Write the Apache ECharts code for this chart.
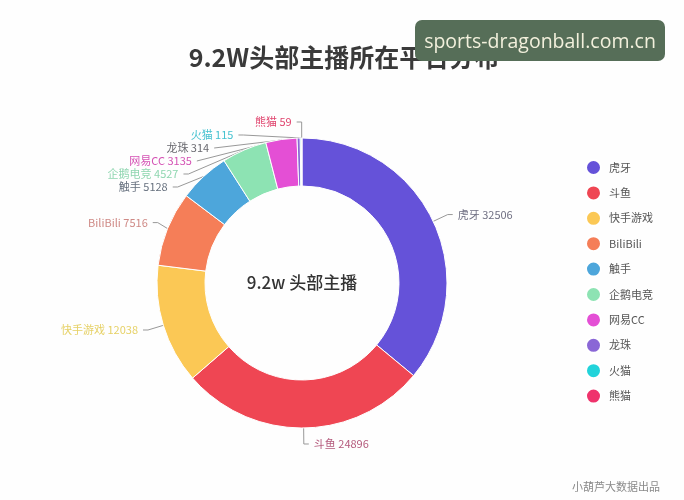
<!DOCTYPE html>
<html><head><meta charset="utf-8">
<script src="https://cdn.jsdelivr.net/npm/echarts@6/dist/echarts.min.js"></script>
<style>html,body{margin:0;padding:0;background:#fff}#c{width:684px;height:500px}</style>
</head><body><div id="c"></div>
<script>
const platforms = ['虎牙','斗鱼','快手游戏','BiliBili','触手','企鹅电竞','网易CC','龙珠','火猫','熊猫'];
const anchorCounts = [32506, 24896, 12038, 7516, 5128, 4527, 3135, 314, 115, 59];
const sliceColors = ['#6552d9','#ef4653','#fbc855','#f57e58','#4da6db','#8de3b3','#e44fd5','#8a67d6','#22d3da','#ef336c'];
const labelColors = ['#6f6f82','#b45a7c','#e6d166','#cf8a86','#66707e','#8fd6b0','#d452b4','#6a6a70','#46c2d0','#e0446e'];
const titleText = '9.2W头部主播所在平台分布';
const centerText = '9.2w 头部主播';
const footerText = '小葫芦大数据出品';
const watermarkText = 'sports-dragonball.com.cn';

const chart = echarts.init(document.getElementById('c'), null, {renderer:'canvas'});
const data = platforms.map((n,i)=>({name:n, value:anchorCounts[i],
  itemStyle:{color:sliceColors[i]}, label:{color:labelColors[i]}}));
chart.setOption({
  backgroundColor:'#fefefe',
  title:{text:titleText, left:339, top:40, textAlign:'center',
    textStyle:{fontSize:25, fontWeight:'bold', color:'#3a3a3a', fontFamily:'Noto Sans CJK SC'}},
  legend:{orient:'vertical', left:580, top:154, itemGap:8.4, icon:'circle', itemWidth:15, itemHeight:15,
    data:platforms, textStyle:{fontSize:11, color:'#555', fontFamily:'Noto Sans CJK SC', padding:[0,0,0,3]}},
  graphic:[
    {type:'text', x:0, y:0, z:10, style:{text:centerText, x:302, y:283, align:'center', verticalAlign:'middle',
      fontSize:17, fontWeight:500, fill:'#333', fontFamily:'Noto Sans CJK SC'}},
    {type:'text', x:0, y:0, style:{text:footerText, x:660, y:487, align:'right', verticalAlign:'middle',
      fontSize:11, fill:'#8a8a8a', fontFamily:'Noto Sans CJK SC'}},
    {type:'rect', x:0, y:0, z:20, shape:{x:415, y:20, width:250, height:41, r:7}, style:{fill:'#566e58'}},
    {type:'text', x:0, y:0, z:21, style:{text:watermarkText, x:540, y:42, align:'center', verticalAlign:'middle',
      fontSize:19.5, fill:'#f2f0dc', fontFamily:'Open Sans'}}
  ],
  series:[{
    type:'pie', center:[302,283], radius:[97,145], startAngle:90, clockwise:true,
    avoidLabelOverlap:true,
    itemStyle:{borderColor:'#fff', borderWidth:1},
    label:{formatter:'{b} {c}', fontSize:11, fontFamily:'Noto Sans CJK SC'},
    labelLine:{length:16, length2:5, lineStyle:{color:'#999', width:1}},
    data:data
  }]
});
</script></body></html>
